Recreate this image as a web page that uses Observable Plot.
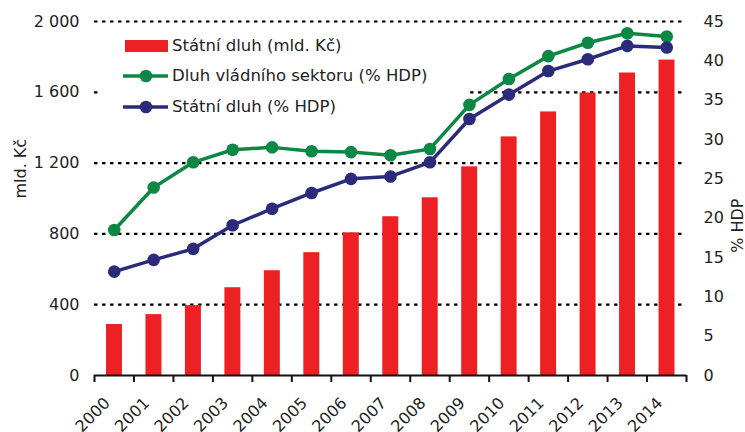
<!DOCTYPE html>
<html><head><meta charset="utf-8">
<script src="https://cdn.jsdelivr.net/npm/d3@7"></script>
<script src="https://cdn.jsdelivr.net/npm/@observablehq/plot@0.6"></script>
<style>
body{margin:0;background:#fff;font-family:"DejaVu Sans",Verdana,sans-serif;}
#wrap{position:relative;width:745px;height:432px;overflow:hidden;}
#legend{position:absolute;left:0;top:0;width:0;height:0;font-size:16.5px;color:#222;}
.row{position:absolute;height:24px;}
.row svg{position:absolute;left:0;top:0;}
.row span{position:absolute;left:49px;top:0;line-height:24px;white-space:nowrap;}
</style></head><body><div id="wrap"><div id="chart"></div><div id="legend"></div></div>
<script>
const years = [2000,2001,2002,2003,2004,2005,2006,2007,2008,2009,2010,2011,2012,2013,2014];
const debtBn = [288,344,395,496,592,694,806,897,1004,1179,1348,1489,1596,1709,1782];
const govDebtPct = [18.5,23.9,27.1,28.7,29.0,28.5,28.4,28.0,28.8,34.4,37.7,40.6,42.3,43.5,43.1];
const stateDebtPct = [13.2,14.7,16.1,19.1,21.2,23.2,25.0,25.3,27.1,32.6,35.7,38.7,40.2,41.9,41.7];
const leftTicks = [0,400,800,1200,1600,2000];
const rightTicks = [0,5,10,15,20,25,30,35,40,45];
const seriesNames = ["Státní dluh (mld. Kč)","Dluh vládního sektoru (% HDP)","Státní dluh (% HDP)"];
const colors = ["#ED2024","#0D8744","#2B2B7B"];
const leftLabel = "mld. Kč";
const rightLabel = "% HDP";

const K = 2000/45;
const data = years.map((year,i)=>({year, debt: debtBn[i], gov: govDebtPct[i], state: stateDebtPct[i]}));
const fmt = d => d3.format(",")(d).replace(/,/g," ");

const chart = Plot.plot({
  width: 745, height: 432,
  marginLeft: 94, marginRight: 59, marginTop: 21, marginBottom: 57,
  style: {fontFamily: '"DejaVu Sans", Verdana, sans-serif', fontSize: "16px", color: "#222", background: "#fff"},
  x: {domain: [2000, 2015], axis: null},
  y: {domain: [0, 2000], axis: null},
  marks: [
    Plot.ruleY(leftTicks.filter(d=>d>0), {stroke:"#000", strokeWidth:2.2, strokeDasharray:"3.5,4.5"}),
    // legend background box (hides the gridline behind the legend)
    Plot.rect([0], {x1: 2000.1, x2: 2009.53, y1: 1420, y2: 1950, fill: "#fff"}),
    Plot.rectY(data, {x1: d=>d.year, x2: d=>d.year+1, y: "debt", fill: colors[0], insetLeft: 12, insetRight: 11.5}),
    Plot.line(data, {x: d=>d.year+0.5, y: d=>d.gov*K, stroke: colors[1], strokeWidth: 3.5}),
    Plot.dot(data, {x: d=>d.year+0.5, y: d=>d.gov*K, fill: colors[1], r: 6.3}),
    Plot.line(data, {x: d=>d.year+0.5, y: d=>d.state*K, stroke: colors[2], strokeWidth: 3.5}),
    Plot.dot(data, {x: d=>d.year+0.5, y: d=>d.state*K, fill: colors[2], r: 6.3}),
    Plot.ruleY([0], {stroke:"#111", strokeWidth:2}),
    Plot.axisX({ticks: d3.range(2000, 2016), tickSize: 7, tickFormat: () => "", stroke: "#111", strokeWidth: 2, label: null}),
    Plot.text(years, {x: d=>d+0.5, y: 0, text: d=>String(d), rotate: -45, textAnchor: "end", dy: 25, dx: -7, fill: "#222"}),
    Plot.axisY(leftTicks, {anchor: "left", tickSize: 0, tickPadding: 15, tickFormat: fmt, label: null, fill: "#222"}),
    Plot.axisY(rightTicks.map(v=>v*K), {anchor: "right", tickSize: 0, tickPadding: 17, tickFormat: d => String(Math.round(d/K)), label: null, fill: "#222"}),
    Plot.text([leftLabel], {frameAnchor: "left", dx: -74, rotate: -90, text: d=>d, fill: "#222"}),
    Plot.text([rightLabel], {frameAnchor: "right", dx: 51, rotate: -90, text: d=>d, fill: "#222"})
  ]
});
document.getElementById("chart").appendChild(chart);

const legend = document.getElementById("legend");
const rowPos = [[123, 34], [123, 64], [123, 95]];
seriesNames.forEach((name, i) => {
  const row = document.createElement("div");
  row.className = "row";
  row.style.left = rowPos[i][0] + "px";
  row.style.top = rowPos[i][1] + "px";
  let sw;
  if (i === 0) {
    sw = `<svg width="48" height="24"><rect x="2" y="6" width="43" height="12" fill="${colors[0]}"/></svg>`;
  } else {
    sw = `<svg width="48" height="24"><line x1="0" y1="12" x2="45" y2="12" stroke="${colors[i]}" stroke-width="3.5"/><circle cx="23" cy="12" r="6.3" fill="${colors[i]}"/></svg>`;
  }
  row.innerHTML = sw + `<span>${name}</span>`;
  legend.appendChild(row);
});
</script>
</body></html>
